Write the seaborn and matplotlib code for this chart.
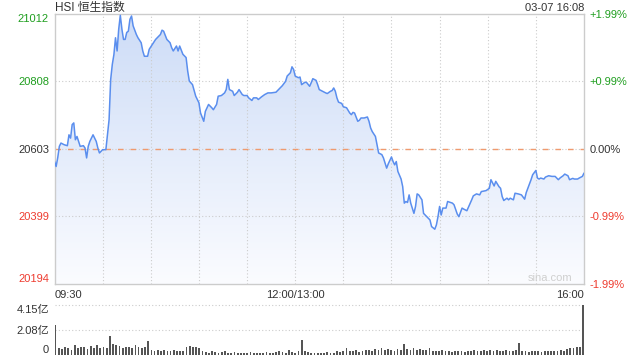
import numpy as np
import pandas as pd
import seaborn as sns
import matplotlib.pyplot as plt
from matplotlib.colors import LinearSegmentedColormap

# trading minutes since 09:30 (lunch break removed) and index level
minutes = [0, 1, 2, 3, 4, 6, 8, 9, 10, 11, 12, 13, 14, 15, 16, 18, 19, 20, 21, 22,
           24, 25, 26, 27, 28, 30, 32, 34, 35, 36, 37, 38, 39, 40, 41, 42, 43, 44, 45, 46,
           47, 48, 49, 51, 52, 54, 55, 56, 58, 59, 61, 63, 65, 66, 67, 68, 70, 72, 73, 74,
           76, 77, 78, 80, 82, 83, 84, 86, 88, 90, 91, 93, 94, 96, 98, 99, 101, 102, 104, 106,
           107, 108, 109, 111, 112, 114, 115, 117, 118, 120, 121, 123, 124, 126, 127, 129, 131, 133, 135, 138,
           140, 142, 144, 145, 147, 148, 149, 150, 152, 153, 154, 156, 157, 159, 160, 161, 163, 164, 165, 167,
           169, 170, 172, 173, 174, 175, 176, 177, 179, 180, 182, 184, 185, 186, 187, 189, 190, 191, 193, 195,
           196, 197, 198, 200, 201, 202, 204, 205, 207, 208, 210, 211, 212, 213, 214, 216, 217, 218, 219, 220,
           221, 222, 224, 225, 226, 227, 229, 230, 232, 234, 235, 237, 238, 239, 240, 241, 242, 244, 245, 248,
           249, 251, 252, 254, 255, 257, 258, 260, 261, 263, 265, 266, 268, 269, 271, 272, 274, 275, 277, 278,
           279, 280, 282, 283, 284, 286, 287, 289, 291, 293, 294, 295, 297, 298, 300, 301, 302, 303, 305, 306,
           308, 310, 312, 314, 315, 317, 318, 320, 321, 323, 324, 326, 327, 329, 330]
prices = [20565, 20550, 20577, 20611, 20621, 20616, 20613, 20646, 20636, 20677, 20682, 20631, 20641, 20626, 20611, 20613, 20606, 20576, 20611, 20626,
          20646, 20636, 20626, 20606, 20591, 20601, 20601, 20692, 20814, 20859, 20889, 20940, 20900, 20966, 21008, 20966, 20935, 20935, 20956, 20960,
          20996, 21006, 20976, 20950, 20940, 20925, 20900, 20884, 20884, 20905, 20920, 20935, 20945, 20950, 20963, 20960, 20935, 20925, 20910, 20900,
          20915, 20900, 20915, 20890, 20880, 20839, 20809, 20798, 20763, 20743, 20712, 20687, 20717, 20738, 20728, 20722, 20738, 20763, 20765, 20773,
          20783, 20814, 20783, 20778, 20765, 20775, 20783, 20768, 20765, 20765, 20758, 20750, 20758, 20758, 20753, 20761, 20768, 20773, 20773, 20775,
          20785, 20795, 20808, 20824, 20834, 20852, 20844, 20824, 20819, 20821, 20798, 20805, 20805, 20793, 20804, 20816, 20811, 20798, 20783, 20778,
          20773, 20771, 20778, 20780, 20788, 20778, 20758, 20745, 20741, 20731, 20728, 20712, 20707, 20714, 20712, 20687, 20690, 20697, 20697, 20700,
          20687, 20667, 20656, 20641, 20616, 20591, 20586, 20576, 20545, 20558, 20579, 20565, 20555, 20565, 20535, 20512, 20489, 20439, 20444, 20441,
          20464, 20439, 20408, 20429, 20467, 20464, 20449, 20408, 20398, 20388, 20368, 20360, 20373, 20398, 20429, 20403, 20424, 20424, 20444, 20439,
          20434, 20406, 20398, 20424, 20421, 20416, 20427, 20449, 20461, 20467, 20464, 20474, 20476, 20477, 20484, 20510, 20491, 20505, 20489, 20484,
          20459, 20447, 20454, 20449, 20454, 20449, 20469, 20467, 20464, 20451, 20471, 20484, 20510, 20525, 20538, 20515, 20512, 20515, 20512, 20518,
          20522, 20520, 20520, 20510, 20515, 20522, 20527, 20522, 20510, 20514, 20512, 20512, 20515, 20520, 20530]

# volume (亿) every two trading minutes
vol_minutes = list(range(0, 331, 2))
volumes = [2.50,
           0.60, 0.50, 0.70, 0.55, 0.45, 0.80, 0.60, 0.65, 0.70, 0.50, 0.75, 0.60, 0.85, 0.55, 0.70, 0.60,
           1.60,
           0.90, 0.80, 0.75, 0.60, 0.70, 0.65, 0.55, 0.80, 0.70, 0.60, 0.65,
           1.15,
           0.40, 0.35, 0.45, 0.30, 0.40, 0.35, 0.30, 0.40, 0.35, 0.30, 0.35,
           0.70, 0.75, 0.65, 0.70, 0.55,
           0.30, 0.25, 0.20, 0.30, 0.25, 0.20, 0.25, 0.30, 0.20, 0.15, 0.25, 0.20, 0.20, 0.15,
           0.20, 0.25, 0.15, 0.20, 0.20, 0.15, 0.25, 0.20, 0.20, 0.25, 0.30, 0.25, 0.20,
           0.45,
           0.25, 0.20, 0.30,
           1.25,
           0.30, 0.25, 0.20, 0.15, 0.20, 0.15, 0.20, 0.25, 0.15, 0.20, 0.30, 0.25, 0.35,
           0.55,
           0.30, 0.35, 0.40, 0.25, 0.30, 0.45, 0.40, 0.35, 0.50, 0.45, 0.55, 0.40, 0.50, 0.45, 0.35, 0.50, 0.40,
           0.90,
           0.50, 0.45, 0.55, 0.40, 0.50, 0.45, 0.40, 0.55, 0.35, 0.30, 0.35, 0.40, 0.30, 0.35, 0.25, 0.30, 0.35, 0.30,
           0.25, 0.35, 0.30, 0.40, 0.30, 0.35, 0.45, 0.30, 0.40, 0.35, 0.45, 0.30, 0.35, 0.40, 0.30, 0.35, 0.40,
           1.00,
           0.30, 0.35, 0.25, 0.30, 0.35, 0.30, 0.25, 0.30, 0.35, 0.30, 0.35, 0.30, 0.40, 0.35,
           0.50, 0.60, 0.55, 0.70, 0.65,
           4.15]

prev_close = 20603
y_ticks = [20194, 20399, 20603, 20808, 21012]
pct_labels = ['-1.99%', '-0.99%', '0.00%', '+0.99%', '+1.99%']
x_ticks = [0, 150, 330]
x_labels = ['09:30', '12:00/13:00', '16:00']
vol_ticks = [0, 2.08, 4.15]
vol_labels = ['0', '2.08亿', '4.15亿']

GREEN = '#1f9e1f'
RED = '#ee3b2f'
DARK = '#333333'
GRID = '#cccccc'

sns.set_style('white')
plt.rcParams['font.family'] = ['Liberation Sans', 'Noto Sans CJK SC', 'DejaVu Sans']

df = pd.DataFrame({'minute': minutes, 'price': prices})

fig = plt.figure(figsize=(6.4, 3.6), dpi=100)
ax = fig.add_axes([0.0852, 0.2111, 0.8273, 0.75])
vax = fig.add_axes([0.0852, 0.0139, 0.8273, 0.1389])

# gradient area under the line
fill = ax.fill_between(df['minute'], df['price'], y_ticks[0], color='none', lw=0)
cmap = LinearSegmentedColormap.from_list('area', ['#fbfcff', '#cddcf7'])
grad = np.linspace(0, 1, 256).reshape(-1, 1)
img = ax.imshow(grad, cmap=cmap, aspect='auto', origin='lower',
                extent=[0, 330, y_ticks[0], y_ticks[-1]], zorder=1)
img.set_clip_path(fill.get_paths()[0], transform=ax.transData)

sns.lineplot(data=df, x='minute', y='price', color='#5a8eee', lw=1.1, ax=ax, zorder=3)

ax.set_xlim(0, 330)
ax.set_ylim(y_ticks[0], y_ticks[-1])

# grid
for m in range(30, 330, 30):
    ax.axvline(m, color=GRID, ls=(0, (1, 2)), lw=0.8, zorder=2)
for v in [y_ticks[1], y_ticks[3], prev_close]:
    ax.axhline(v, color=GRID, ls=(0, (1, 2)), lw=0.8, zorder=2)
ax.axhline(prev_close, color='#f09a6e', ls=(0, (4, 5)), lw=1.0, zorder=2)

for s in ax.spines.values():
    s.set_color(GRID)
    s.set_linewidth(1.0)

def tick_color(v):
    if v > prev_close:
        return GREEN
    if v < prev_close:
        return RED
    return DARK

ax.set_yticks(y_ticks)
ax.set_yticklabels([str(v) for v in y_ticks])
ax.tick_params(axis='y', length=0, pad=4, labelsize=8)
for lab, v in zip(ax.get_yticklabels(), y_ticks):
    lab.set_color(tick_color(v))
ax.get_yticklabels()[0].set_va('bottom')
ax.get_yticklabels()[-1].set_va('top')

ax2 = ax.twinx()
ax2.set_ylim(y_ticks[0], y_ticks[-1])
ax2.set_yticks(y_ticks)
ax2.set_yticklabels(pct_labels)
ax2.tick_params(axis='y', length=0, pad=4, labelsize=8)
for lab, v in zip(ax2.get_yticklabels(), y_ticks):
    lab.set_color(tick_color(v))
for s in ax2.spines.values():
    s.set_visible(False)

ax.set_xticks(x_ticks)
ax.set_xticklabels(x_labels)
ax.tick_params(axis='x', length=0, pad=4, labelsize=8, labelcolor=DARK)
ax.get_xticklabels()[0].set_ha('left')
ax.get_xticklabels()[-1].set_ha('right')
ax.set_xlabel('')
ax.set_ylabel('')

ax.text(0.935, 0.005, 'sina.com', transform=ax.transAxes, ha='center', va='bottom',
        color='#cfcfcf', fontsize=8, zorder=4)

# volume panel
vax.bar(vol_minutes, volumes, width=1.1, color='#555555', lw=0)
vax.set_xlim(-0.6, 330.6)
vax.set_ylim(0, vol_ticks[-1])
for v in vol_ticks[1:]:
    vax.axhline(v, color=GRID, ls=(0, (1, 2)), lw=0.8, clip_on=False, zorder=0)
for s in vax.spines.values():
    s.set_visible(False)
vax.set_xticks([])
vax.set_yticks(vol_ticks)
vax.set_yticklabels(vol_labels)
vax.tick_params(axis='y', length=0, pad=4, labelsize=8, labelcolor=DARK)
vax.get_yticklabels()[0].set_va('bottom')
vax.get_yticklabels()[-1].set_va('top')

fig.text(55 / 640, 1 - 8 / 360, 'HSI 恒生指数', ha='left', va='center', fontsize=8.5, color=DARK)
fig.text(584 / 640, 1 - 8 / 360, '03-07 16:08', ha='right', va='center', fontsize=8, color=DARK)

fig.savefig('out.png', dpi=100)
